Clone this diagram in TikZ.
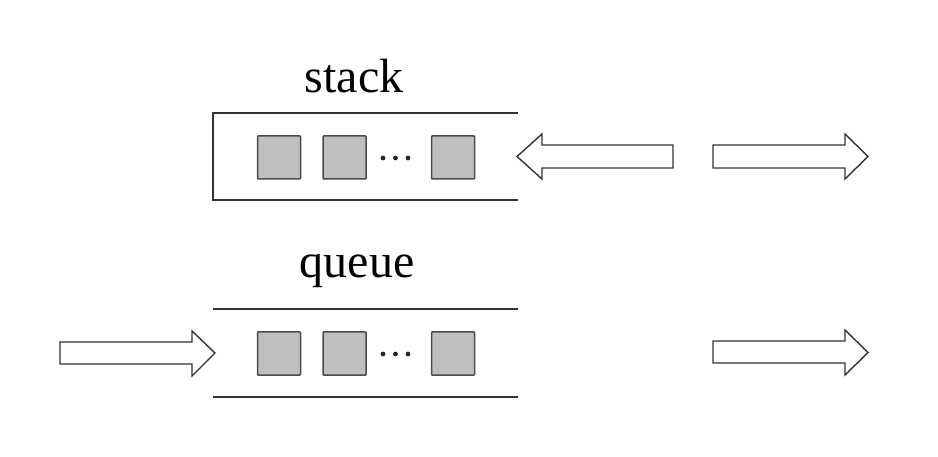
\documentclass[tikz,border=0pt]{standalone}
\usepackage{fontspec}
\setmainfont{Liberation Serif}
\begin{document}
\begin{tikzpicture}[x=1pt,y=-1pt,
  line/.style={draw=black!80,line width=1.5pt},
  cell/.style={draw=black!70,line width=1.5pt,fill=black!25,minimum width=43pt,minimum height=43pt,inner sep=0pt,rounded corners=0.8pt},
  fatarrow/.style={draw=black!80,line width=1.4pt,fill=white,line join=miter},
  lbl/.style={font=\fontsize{48}{52}\selectfont,anchor=base,inner sep=0pt},
  dot/.style={circle,fill=black!85,minimum size=4.8pt,inner sep=0pt}]
\useasboundingbox (0,0) rectangle (938,457);
% stack
\node[lbl] (stacklbl) at (354,93) {stack};
\draw[line] (518,113) -- (213,113) -- (213,200) -- (518,200);
\node[cell] (s1) at (279,157.5) {};
\node[cell] (s2) at (344.5,157.5) {};
\node[dot] (sd1) at (383,158) {};
\node[dot] (sd2) at (395.5,158) {};
\node[dot] (sd3) at (408,158) {};
\node[cell] (s3) at (453,157.5) {};
\draw[fatarrow] (517,156.5) -- (542,134) -- (542,145) -- (673,145) -- (673,168) -- (542,168) -- (542,179) -- cycle;
\draw[fatarrow] (868,156.5) -- (845,134) -- (845,145) -- (713,145) -- (713,168) -- (845,168) -- (845,179) -- cycle;
% queue
\node[lbl] (queuelbl) at (357,278) {queue};
\draw[line] (213,309) -- (518,309);
\draw[line] (213,397) -- (518,397);
\node[cell] (q1) at (279,353.5) {};
\node[cell] (q2) at (344.5,353.5) {};
\node[dot] (qd1) at (383,354) {};
\node[dot] (qd2) at (395.5,354) {};
\node[dot] (qd3) at (408,354) {};
\node[cell] (q3) at (453,353.5) {};
\draw[fatarrow] (215,353) -- (192,331) -- (192,342) -- (60,342) -- (60,364) -- (192,364) -- (192,376) -- cycle;
\draw[fatarrow] (868,352.5) -- (845,330) -- (845,341) -- (713,341) -- (713,363) -- (845,363) -- (845,375) -- cycle;
\end{tikzpicture}
\end{document}
